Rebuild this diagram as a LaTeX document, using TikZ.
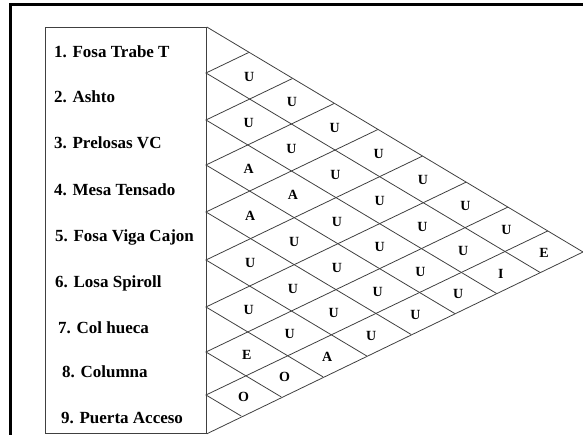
\documentclass[tikz,border=0pt]{standalone}
\usepackage{fontspec}
\setmainfont{Liberation Serif}
\begin{document}
\begin{tikzpicture}[x=1pt,y=-1pt,
  grid/.style={draw=black!75, line width=0.8pt},
  rowlabel/.style={anchor=base west, inner sep=0pt, font=\fontsize{17}{20}\selectfont\bfseries},
  cell/.style={inner sep=0pt, font=\fontsize{14}{16}\selectfont\bfseries},
  frameline/.style={draw=black, line width=2.5pt}]
\useasboundingbox (0,0) rectangle (583,435);
\clip (0,0) rectangle (583,435);
\draw[frameline] (9,4.5) -- (583,4.5);
\draw[frameline] (10.5,3.25) -- (10.5,435);
\node[draw=black!75, line width=0.8pt, minimum width=161pt, minimum height=406pt,
      anchor=north west, inner sep=0pt] (box) at (45,27) {};
\coordinate (apex) at (583,252);
\draw[grid] (box.north east) -- (apex) -- (box.south east);
\def\vlist{{27,73,120,165,212,260,307,352,395,433}}
\pgfmathsetmacro{\sA}{0.597}
\pgfmathsetmacro{\sB}{0.48}
\foreach \k in {1,...,8} {
  \pgfmathsetmacro{\vk}{\vlist[\k]}
  \pgfmathsetmacro{\da}{(433-\vk)/(\sA+\sB)}
  \pgfmathsetmacro{\db}{(\vk-27)/(\sA+\sB)}
  \draw[grid] (206+\db, \vk-\sB*\db) -- (206,\vk) -- (206+\da, \vk+\sA*\da);
}
\foreach \i/\j/\t in {1/2/U,2/3/U,3/4/A,4/5/A,5/6/U,6/7/U,7/8/E,8/9/O,
  1/3/U,2/4/U,3/5/A,4/6/U,5/7/U,6/8/U,7/9/O,
  1/4/U,2/5/U,3/6/U,4/7/U,5/8/U,6/9/A,
  1/5/U,2/6/U,3/7/U,4/8/U,5/9/U,
  1/6/U,2/7/U,3/8/U,4/9/U,
  1/7/U,2/8/U,3/9/U,
  1/8/U,2/9/I,
  1/9/E} {
  \pgfmathtruncatemacro{\ip}{\i-1}
  \pgfmathtruncatemacro{\jp}{\j-1}
  \pgfmathsetmacro{\vai}{\vlist[\ip]}
  \pgfmathsetmacro{\vbi}{\vlist[\i]}
  \pgfmathsetmacro{\vaj}{\vlist[\jp]}
  \pgfmathsetmacro{\vbj}{\vlist[\j]}
  \pgfmathsetmacro{\rowA}{(\vai+\vbi)/2}
  \pgfmathsetmacro{\rowB}{(\vaj+\vbj)/2}
  \pgfmathsetmacro{\dd}{(\rowB-\rowA)/(\sA+\sB)}
  \node[cell] (c\i\j) at (206+\dd, \rowA+\sA*\dd+1) {\t};
}
\node[rowlabel] (r1) at (54,57.5) {1. Fosa Trabe T};
\node[rowlabel] (r2) at (54,102.5) {2. Ashto};
\node[rowlabel] (r3) at (54,148.5) {3. Prelosas VC};
\node[rowlabel] (r4) at (54,195.5) {4. Mesa Tensado};
\node[rowlabel] (r5) at (55,241.5) {5. Fosa Viga Cajon};
\node[rowlabel] (r6) at (55,287.5) {6. Losa Spiroll};
\node[rowlabel] (r7) at (58,333.5) {7. Col hueca};
\node[rowlabel] (r8) at (62,377.5) {8. Columna};
\node[rowlabel] (r9) at (61,423.5) {9. Puerta Acceso};
\end{tikzpicture}
\end{document}
